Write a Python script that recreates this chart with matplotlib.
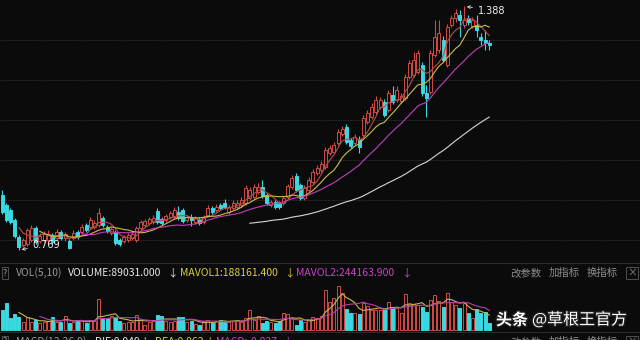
import numpy as np
import pandas as pd
import matplotlib
matplotlib.use("Agg")
import matplotlib.pyplot as plt
import matplotlib.patheffects as pe

plt.rcParams['font.family'] = ['Noto Sans CJK SC', 'DejaVu Sans']

# daily candles
opens = [0.909, 0.883, 0.871, 0.845, 0.802, 0.782, 0.784, 0.794, 0.825, 0.792,
         0.794, 0.794, 0.807, 0.800, 0.815, 0.800, 0.792, 0.800, 0.815, 0.815,
         0.833, 0.827, 0.827, 0.833, 0.850, 0.827, 0.812, 0.815, 0.794, 0.792,
         0.794, 0.800, 0.794, 0.825, 0.833, 0.838, 0.840, 0.868, 0.848, 0.845,
         0.853, 0.853, 0.865, 0.871, 0.845, 0.853, 0.840, 0.848, 0.840, 0.858,
         0.876, 0.871, 0.883, 0.888, 0.865, 0.876, 0.878, 0.883, 0.888, 0.901,
         0.904, 0.916, 0.929, 0.909, 0.883, 0.891, 0.888, 0.888, 0.904, 0.929,
         0.957, 0.934, 0.901, 0.921, 0.942, 0.964, 0.972, 0.980, 1.015, 1.018,
         1.040, 1.063, 1.081, 1.048, 1.040, 1.051, 1.061, 1.094, 1.107, 1.119,
         1.132, 1.145, 1.124, 1.162, 1.150, 1.147, 1.155, 1.208, 1.213, 1.221,
         1.238, 1.167, 1.170, 1.264, 1.276, 1.302, 1.238, 1.340, 1.358, 1.365,
         1.340, 1.358, 1.337, 1.340, 1.309, 1.302, 1.294]
closes = [0.865, 0.845, 0.840, 0.805, 0.777, 0.794, 0.820, 0.825, 0.789, 0.805,
          0.810, 0.810, 0.789, 0.815, 0.800, 0.810, 0.774, 0.812, 0.802, 0.827,
          0.820, 0.845, 0.838, 0.863, 0.833, 0.817, 0.822, 0.787, 0.784, 0.802,
          0.807, 0.810, 0.825, 0.840, 0.843, 0.848, 0.850, 0.840, 0.838, 0.855,
          0.863, 0.871, 0.850, 0.843, 0.853, 0.845, 0.850, 0.838, 0.853, 0.876,
          0.865, 0.878, 0.876, 0.878, 0.878, 0.888, 0.888, 0.896, 0.926, 0.921,
          0.929, 0.929, 0.906, 0.888, 0.891, 0.878, 0.878, 0.901, 0.931, 0.952,
          0.921, 0.901, 0.926, 0.947, 0.967, 0.977, 0.987, 1.023, 1.028, 1.035,
          1.068, 1.076, 1.043, 1.033, 1.056, 1.030, 1.104, 1.117, 1.132, 1.150,
          1.150, 1.112, 1.167, 1.145, 1.175, 1.160, 1.208, 1.243, 1.251, 1.269,
          1.167, 1.155, 1.269, 1.309, 1.320, 1.251, 1.335, 1.358, 1.370, 1.353,
          1.353, 1.347, 1.353, 1.327, 1.302, 1.294, 1.289]
highs = [0.921, 0.888, 0.876, 0.850, 0.807, 0.800, 0.825, 0.833, 0.830, 0.812,
         0.817, 0.820, 0.812, 0.822, 0.820, 0.815, 0.797, 0.820, 0.820, 0.835,
         0.838, 0.853, 0.845, 0.876, 0.855, 0.833, 0.827, 0.820, 0.800, 0.807,
         0.812, 0.815, 0.830, 0.845, 0.848, 0.853, 0.858, 0.876, 0.853, 0.860,
         0.868, 0.878, 0.881, 0.876, 0.858, 0.860, 0.855, 0.853, 0.858, 0.883,
         0.881, 0.886, 0.888, 0.898, 0.883, 0.896, 0.896, 0.904, 0.934, 0.929,
         0.937, 0.939, 0.947, 0.914, 0.896, 0.896, 0.893, 0.906, 0.937, 0.959,
         0.964, 0.939, 0.934, 0.954, 0.975, 0.985, 0.995, 1.030, 1.035, 1.043,
         1.076, 1.084, 1.089, 1.053, 1.063, 1.058, 1.112, 1.124, 1.142, 1.160,
         1.157, 1.152, 1.175, 1.185, 1.185, 1.167, 1.216, 1.251, 1.271, 1.276,
         1.246, 1.188, 1.276, 1.353, 1.353, 1.312, 1.342, 1.365, 1.380, 1.378,
         1.388, 1.365, 1.360, 1.365, 1.320, 1.327, 1.302]
lows = [0.860, 0.840, 0.835, 0.800, 0.769, 0.777, 0.779, 0.789, 0.784, 0.787,
        0.789, 0.789, 0.784, 0.794, 0.794, 0.792, 0.772, 0.794, 0.797, 0.810,
        0.815, 0.822, 0.822, 0.827, 0.827, 0.812, 0.807, 0.782, 0.779, 0.787,
        0.789, 0.794, 0.789, 0.820, 0.827, 0.833, 0.835, 0.835, 0.833, 0.840,
        0.848, 0.848, 0.845, 0.838, 0.840, 0.830, 0.835, 0.833, 0.835, 0.853,
        0.860, 0.865, 0.871, 0.873, 0.860, 0.871, 0.873, 0.878, 0.883, 0.896,
        0.898, 0.911, 0.901, 0.883, 0.878, 0.873, 0.873, 0.883, 0.898, 0.924,
        0.916, 0.896, 0.896, 0.916, 0.937, 0.959, 0.967, 0.975, 1.010, 1.013,
        1.035, 1.058, 1.038, 1.028, 1.035, 1.015, 1.056, 1.089, 1.101, 1.114,
        1.127, 1.107, 1.119, 1.140, 1.145, 1.142, 1.150, 1.203, 1.208, 1.216,
        1.160, 1.107, 1.165, 1.259, 1.269, 1.246, 1.233, 1.335, 1.347, 1.309,
        1.332, 1.340, 1.332, 1.309, 1.289, 1.276, 1.276]
volumes = [254000, 342900, 152400, 203200, 165100, 101600, 165100, 101600, 127000, 88900,
           101600, 114300, 165100, 101600, 101600, 177800, 88900, 101600, 127000, 114300,
           88900, 127000, 114300, 393700, 139700, 152400, 177800, 165100, 114300, 88900,
           101600, 101600, 190500, 127000, 63500, 101600, 114300, 190500, 177800, 114300,
           101600, 114300, 165100, 165100, 101600, 114300, 76200, 63500, 114300, 127000,
           88900, 114300, 127000, 114300, 101600, 114300, 127000, 101600, 152400, 254000,
           127000, 177800, 88900, 114300, 101600, 88900, 114300, 215900, 203200, 152400,
           63500, 127000, 101600, 139700, 165100, 152400, 177800, 508000, 355600, 406400,
           558800, 469900, 266700, 215900, 215900, 203200, 342900, 304800, 254000, 254000,
           254000, 266700, 355600, 292100, 279400, 215900, 457200, 342900, 330200, 317500,
           292100, 228600, 381000, 444500, 368300, 292100, 469900, 355600, 317500, 279400,
           342900, 215900, 152400, 266700, 215900, 228600, 89031]

ma_windows = [5, 10, 20, 60]
ma_colors = ['#b84a4a', '#c8c04a', '#c040c0', '#d6d6d6']
grid_levels = [0.794, 0.896, 0.997, 1.099, 1.200, 1.302]

vol_labels = [(16, 'VOL(5,10)', '#9a9a9a'), (68, 'VOLUME:89031.000', '#e8e8e8'),
              (167, '↓', '#e8e8e8'), (180, 'MAVOL1:188161.400', '#d8d040'),
              (284, '↓', '#d8d040'), (296, 'MAVOL2:244163.900', '#c646c6'),
              (401, '↓', '#c646c6')]
macd_labels = [(16, 'MACD(12,26,9)', '#9a9a9a'), (95, 'DIF:0.049', '#e8e8e8'),
               (139, '↓', '#e8e8e8'), (155, 'DEA:0.062', '#d8d040'),
               (204, '↓', '#d8d040'), (216, 'MACD:-0.027', '#c646c6'),
               (282, '↓', '#c646c6')]
tool_labels = [(510, '改参数'), (549, '加指标'), (587, '换指标')]

W, H = 640, 340
BG = '#0b0b0b'
RED = '#d44a42'
CYAN = '#3ad8e0'

o = np.array(opens)
c = np.array(closes)
hi = np.array(highs)
lo = np.array(lows)
v = np.array(volumes)
idx = np.arange(len(c))
up = c >= o
edge = np.where(up, RED, CYAN)
face = np.where(up, BG, CYAN)

fig = plt.figure(figsize=(6.4, 3.4), dpi=100, facecolor=BG)


def px_axes(top, bottom):
    a = fig.add_axes([0, 1 - bottom / H, 1, (bottom - top) / H])
    a.set_facecolor(BG)
    a.set_xlim(-0.48, 151.9)
    a.set_xticks([])
    a.tick_params(length=0, labelleft=False, labelbottom=False)
    for s in a.spines.values():
        s.set_visible(False)
    return a


# price panel
ax = px_axes(0, 262)
ax.set_ylim(0.7386, 1.4033)
ax.set_yticks(grid_levels)
ax.yaxis.grid(True, color='#2e2e2e', lw=0.6, ls=(0, (2, 1)))
ax.vlines(idx, lo, hi, colors=edge, lw=0.8, zorder=2)
ax.bar(idx, np.maximum(np.abs(c - o), 0.0015), bottom=np.minimum(o, c), width=0.72,
       color=face, edgecolor=edge, linewidth=0.7, zorder=3)
s = pd.Series(c)
for w, col in zip(ma_windows, ma_colors):
    ax.plot(idx, s.rolling(w).mean(), color=col, lw=0.8, zorder=4)

ih = int(np.argmax(hi))
il = int(np.argmin(lo))
arrow = dict(arrowstyle='->', color='#e0e0e0', lw=0.6, mutation_scale=5)
ax.annotate(f'{hi[ih]:.3f}', xy=(ih, hi[ih]), xytext=(10, -3.5), textcoords='offset points',
            color='#f0f0f0', fontsize=7, family='DejaVu Sans', va='center', arrowprops=arrow)
ax.annotate(f'{lo[il]:.3f}', xy=(il, lo[il]), xytext=(10, 3.5), textcoords='offset points',
            color='#f0f0f0', fontsize=7, family='DejaVu Sans', va='center', arrowprops=arrow)

# volume panel
axv = px_axes(263, 332)
axv.set_ylim(-25400, 850900)
for side in ['top', 'bottom']:
    axv.spines[side].set_visible(True)
    axv.spines[side].set_color('#2a2a2a')
axv.bar(idx, v, width=0.72, color=face, edgecolor=edge, linewidth=0.7)
vs = pd.Series(v)
axv.plot(idx, vs.rolling(5).mean(), color='#c8b850', lw=0.8)
axv.plot(idx, vs.rolling(10).mean(), color='#b040b0', lw=0.8)


def header(ypx, labels):
    fig.text(5 / W, 1 - ypx / H, '?', color='#9a9a9a', fontsize=6.5, va='center', ha='center',
             bbox=dict(boxstyle='square,pad=0.15', fc='none', ec='#5a5a5a', lw=0.6))
    for x, t, col in labels:
        fig.text(x / W, 1 - ypx / H, t, color=col, fontsize=7.5, va='center')
    for x, t in tool_labels:
        fig.text(x / W, 1 - ypx / H, t, color='#8c8c8c', fontsize=7.5, va='center')
    fig.text(632 / W, 1 - ypx / H, '×', color='#8c8c8c', fontsize=7, va='center', ha='center',
             bbox=dict(boxstyle='square,pad=0.15', fc='none', ec='#5a5a5a', lw=0.6))


header(273, vol_labels)
header(342, macd_labels)

shadow = [pe.withStroke(linewidth=2, foreground='#202020')]
fig.text(496 / W, 1 - 320 / H, '头条', color='white', fontsize=11.5, weight='bold',
         va='center', path_effects=shadow)
fig.text(532 / W, 1 - 320 / H, '@草根王官方', color='white', fontsize=11.5,
         va='center', path_effects=shadow)

fig.savefig('out.png', dpi=100, facecolor=BG)
